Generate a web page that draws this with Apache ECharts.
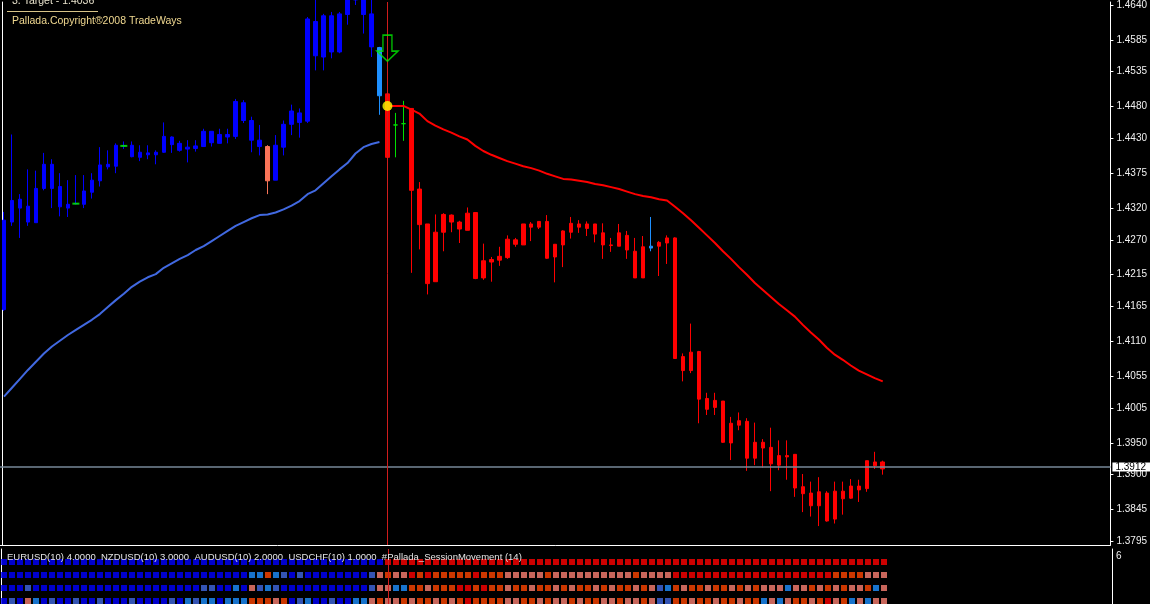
<!DOCTYPE html>
<html><head><meta charset="utf-8">
<script src="https://cdn.jsdelivr.net/npm/echarts@6/dist/echarts.min.js"></script>
<style>html,body{margin:0;padding:0;background:#000;}#chart{width:1150px;height:604px;}</style>
</head><body><div id="chart"></div>
<script>
// ---------- data ----------
const barCount = 139; // slots on the time axis (111 bars + empty space on the right)
const barLabels = Array.from({length: barCount}, (_, i) => String(i + 1));

const openP = [1.4160,1.4298,1.4334,1.4323,1.4297,1.4351,1.4389,1.4354,1.4320,1.4327,
1.4326,1.4345,1.4363,1.4389,1.4386,1.4418,1.4419,1.4400,1.4407,1.4404,
1.4408,1.4432,1.4422,1.4413,1.4414,1.4417,1.4441,1.4422,1.4436,1.4433,
1.4486,1.4458,1.4427,1.4417,1.4364,1.4416,1.4452,1.4470,1.4457,1.4614,
1.4558,1.4623,1.4566,1.4625,1.4648,1.4657,1.4626,1.4573,1.4500,1.4451,
1.4453,1.4477,1.4350,1.4295,1.4204,1.4282,1.4309,1.4298,1.4285,1.4313,
1.4210,1.4239,1.4238,1.4242,1.4270,1.4262,1.4295,1.4290,1.4299,1.4243,
1.4262,1.4282,1.4295,1.4288,1.4295,1.4281,1.4262,1.4260,1.4277,1.4252,
1.4210,1.4260,1.4260,1.4265,1.4273,1.4086,1.4064,1.4094,1.4020,1.4006,
1.4016,1.3950,1.3985,1.3984,1.3926,1.3951,1.3943,1.3915,1.3930,1.3932,
1.3881,1.3871,1.3851,1.3871,1.3830,1.3874,1.3863,1.3882,1.3878,1.3920,
1.3920];
const closeP = [1.4301,1.4332,1.4320,1.4298,1.4351,1.4389,1.4351,1.4322,1.4326,1.4327,
1.4347,1.4364,1.4388,1.4385,1.4419,1.4418,1.4401,1.4408,1.4404,1.4408,
1.4433,1.4420,1.4411,1.4416,1.4418,1.4441,1.4423,1.4436,1.4432,1.4488,
1.4458,1.4427,1.4417,1.4363,1.4419,1.4452,1.4473,1.4455,1.4618,1.4560,
1.4623,1.4566,1.4626,1.4654,1.4660,1.4625,1.4574,1.4497,1.4400,1.4451,
1.4453,1.4348,1.4294,1.4201,1.4282,1.4310,1.4298,1.4287,1.4312,1.4209,
1.4237,1.4235,1.4244,1.4271,1.4263,1.4295,1.4290,1.4299,1.4241,1.4263,
1.4284,1.4296,1.4290,1.4295,1.4279,1.4262,1.4261,1.4281,1.4254,1.4210,
1.4259,1.4257,1.4266,1.4273,1.4083,1.4064,1.4093,1.4019,1.4003,1.4017,
1.3951,1.3981,1.3978,1.3926,1.3951,1.3942,1.3917,1.3930,1.3928,1.3879,
1.3870,1.3851,1.3873,1.3827,1.3874,1.3862,1.3882,1.3876,1.3922,1.3914,
1.3909];
const lowP = [1.4158,1.4292,1.4273,1.4292,1.4297,1.4348,1.4320,1.4307,1.4306,1.4326,
1.4320,1.4335,1.4354,1.4381,1.4375,1.4413,1.4400,1.4394,1.4397,1.4389,
1.4407,1.4407,1.4409,1.4392,1.4409,1.4417,1.4417,1.4422,1.4422,1.4429,
1.4454,1.4408,1.4403,1.4342,1.4364,1.4403,1.4435,1.4431,1.4454,1.4537,
1.4537,1.4556,1.4564,1.4609,1.4640,1.4595,1.4558,1.4467,1.4400,1.4400,
1.4426,1.4218,1.4255,1.4184,1.4204,1.4252,1.4282,1.4265,1.4285,1.4208,
1.4207,1.4204,1.4229,1.4240,1.4259,1.4262,1.4268,1.4287,1.4240,1.4203,
1.4227,1.4272,1.4281,1.4276,1.4266,1.4240,1.4251,1.4260,1.4240,1.4210,
1.4210,1.4252,1.4213,1.4232,1.4083,1.4047,1.4060,1.3981,1.3994,1.3994,
1.3950,1.3923,1.3970,1.3906,1.3915,1.3911,1.3874,1.3907,1.3892,1.3865,
1.3841,1.3834,1.3819,1.3826,1.3823,1.3837,1.3862,1.3857,1.3873,1.3909,
1.3900];
const highP = [1.4314,1.4436,1.4342,1.4381,1.4379,1.4407,1.4397,1.4375,1.4364,1.4372,
1.4372,1.4375,1.4416,1.4411,1.4422,1.4425,1.4425,1.4419,1.4419,1.4411,
1.4455,1.4433,1.4426,1.4427,1.4427,1.4445,1.4441,1.4445,1.4445,1.4492,
1.4490,1.4464,1.4451,1.4419,1.4435,1.4458,1.4483,1.4477,1.4621,1.4649,
1.4626,1.4629,1.4629,1.4660,1.4668,1.4664,1.4654,1.4574,1.4500,1.4470,
1.4489,1.4477,1.4361,1.4295,1.4310,1.4312,1.4310,1.4300,1.4321,1.4313,
1.4264,1.4243,1.4259,1.4277,1.4273,1.4295,1.4298,1.4299,1.4309,1.4263,
1.4285,1.4306,1.4301,1.4299,1.4295,1.4296,1.4273,1.4295,1.4284,1.4273,
1.4276,1.4306,1.4268,1.4277,1.4274,1.4091,1.4138,1.4095,1.4029,1.4029,
1.4016,1.3991,1.3998,1.3989,1.3982,1.3956,1.3974,1.3954,1.3954,1.3932,
1.3901,1.3889,1.3896,1.3874,1.3889,1.3889,1.3893,1.3892,1.3922,1.3936,
1.3922];
// candle colour codes: B blue, S salmon, D light blue, R red, G green
const candleCodes = "BBBBBBBBBB" + "BBBBBBBBBB" + "BBBBBBBBBB" + "BBBSBBBBBB" + "BBBBBBBDRG" +
                    "GRRRRRRRRR" + "RRRRRRRRRR" + "RRRRRRRRRR" + "RDRRRRRRRR" + "RRRRRRRRRR" +
                    "RRRRRRRRRR" + "R";
const dojiBars = [9, 15];
const dojiPrices = [1.4327, 1.4418];

// blue moving average (bars 0..47)
const trendMA = [1.4023,1.4037,1.4051,1.4065,1.4078,1.4091,1.4102,1.4111,1.4120,1.4128,
1.4136,1.4144,1.4153,1.4164,1.4175,1.4185,1.4196,1.4204,1.4211,1.4216,
1.4226,1.4233,1.4240,1.4246,1.4254,1.4260,1.4268,1.4276,1.4284,1.4292,
1.4298,1.4304,1.4309,1.4310,1.4313,1.4318,1.4324,1.4331,1.4342,1.4348,
1.4359,1.4370,1.4381,1.4391,1.4406,1.4416,1.4421,1.4424];
// red trailing line (bars 48..110)
const stopStart = 48;
const stopLine = [1.4481,1.4481,1.4481,1.4475,1.4469,1.4457,1.4450,1.4444,1.4439,1.4433,
1.4428,1.4418,1.4410,1.4404,1.4399,1.4394,1.4390,1.4386,1.4383,1.4379,
1.4374,1.4370,1.4366,1.4365,1.4363,1.4361,1.4358,1.4356,1.4353,1.4350,
1.4346,1.4342,1.4339,1.4337,1.4334,1.4332,1.4322,1.4312,1.4301,1.4289,
1.4277,1.4265,1.4252,1.4240,1.4227,1.4215,1.4202,1.4191,1.4180,1.4169,
1.4159,1.4149,1.4136,1.4124,1.4113,1.4100,1.4089,1.4081,1.4072,1.4064,
1.4058,1.4052,1.4047];

const signalBar = 48;
const entryPrice = 1.4481;
const arrowPrice = 1.4572;
const lastPrice = 1.3912;

const priceTicks = [1.4640,1.4585,1.4535,1.4480,1.4430,1.4375,1.4320,1.4270,1.4215,1.4165,
1.4110,1.4055,1.4005,1.3950,1.3900,1.3845,1.3795];
const priceMin = 1.378917, priceMax = 1.464471;

// session movement sub-window: 4 rows of colour codes (bars 0..110)
const rowLevels = [4, 3, 2, 1];
const sessionRows = [
 "BBBBBBBBBB"+"BBBBBBBBBB"+"BBBBBBBBBB"+"BBBBBBBBBB"+"BBBBBBBBRR"+"RRRRRRRRRR"+"RRRRRRRRRR"+"RRRRRRRRRR"+"RRRRRRRRRR"+"RRRRRRRRRR"+"RRRRRRRRRR"+"R",
 "BBBBBBBBBB"+"BBBBBBBBBB"+"BBBBBBBBBB"+"BDDODLBLBB"+"BBBBBBLSOS"+"SROROOOOOR"+"OOOSSSSSOS"+"SSSSSSSSSO"+"SSSSRRRRRR"+"RRRRRRRRRR"+"RRRROOOOSS"+"S",
 "BBBLBBBBBB"+"BBBBBBBBBB"+"BBBBBLLBBD"+"BSLDLBBBBB"+"BBBBBBLSSD"+"DOOSOOORRO"+"ROOSOOSOOS"+"OSOOSOSOOS"+"OSLDOSOOSO"+"OSOSOSSSDS"+"SOSOSOSSOD"+"S",
 "BLBSDBLBBL"+"BBLBBBLBBB"+"BLBDLDDBDD"+"DOOOSOBLDB"+"BLBBDDSOSS"+"OSOOSOSORO"+"OOOSSOOSOS"+"SOSOOSSOSS"+"OSLLOOSOOS"+"OOSOODSDSO"+"OSORSODSDS"+"S"
];

// ---------- styling ----------
const candleColors = {B:'#0000ff', S:'#fa7458', D:'#1e90ff', R:'#ff0000', G:'#00e000'};
const squareColors = {B:'#0000ff', L:'#4169e1', D:'#1e90ff', S:'#fa8072', O:'#ff4500', R:'#ff0000'};
const FONT = '"Liberation Sans", Arial, sans-serif';

const candleData = openP.map((o, i) => {
  const c = candleColors[candleCodes[i]];
  return {value: [o, closeP[i], lowP[i], highP[i]],
          itemStyle: {color: c, color0: c, borderColor: c, borderColor0: c, borderColorDoji: c}};
});
const maData = barLabels.map((_, i) => i < trendMA.length ? trendMA[i] : null);
const stopData = barLabels.map((_, i) => (i >= stopStart && i - stopStart < stopLine.length) ? stopLine[i - stopStart] : null);

const squareSeries = sessionRows.map((codes, r) => ({
  type: 'scatter', xAxisIndex: 1, yAxisIndex: 2, symbol: 'rect', symbolSize: [6, 6], silent: true, z: 2,
  data: codes.split('').map((c, k) => ({value: [k, rowLevels[r]], itemStyle: {color: squareColors[c]}}))
}));

const chart = echarts.init(document.getElementById('chart'), null, {renderer: 'canvas'});
chart.setOption({
  backgroundColor: '#000',
  animation: false,
  textStyle: {fontFamily: FONT},
  grid: [
    {left: 0, top: 0, width: 1112, height: 545},
    {left: 0, top: 549, width: 1112, height: 55}
  ],
  xAxis: [
    {gridIndex: 0, type: 'category', data: barLabels, boundaryGap: true,
     axisLine: {show: true, lineStyle: {color: '#ffffff', width: 1}}, axisTick: {show: false},
     axisLabel: {show: false}, splitLine: {show: false}},
    {gridIndex: 1, type: 'category', data: barLabels, boundaryGap: true, position: 'top',
     axisLine: {show: true, lineStyle: {color: '#ffffff', width: 1}}, axisTick: {show: false},
     axisLabel: {show: false}, splitLine: {show: false}}
  ],
  yAxis: [
    {gridIndex: 0, type: 'value', position: 'right', min: priceMin, max: priceMax, scale: true,
     axisLine: {show: true, lineStyle: {color: '#ffffff', width: 1}},
     axisTick: {show: true, length: 3, lineStyle: {color: '#ffffff'}, customValues: priceTicks},
     axisLabel: {show: true, color: '#f0f0f0', fontSize: 10, margin: 6, fontFamily: FONT,
                 customValues: priceTicks, formatter: v => v.toFixed(4)},
     splitLine: {show: false}},
    {gridIndex: 0, type: 'value', position: 'left', offset: -2, min: priceMin, max: priceMax,
     axisLine: {show: true, lineStyle: {color: '#ffffff', width: 1}},
     axisTick: {show: false}, axisLabel: {show: false}, splitLine: {show: false}},
    {gridIndex: 1, type: 'value', position: 'right', min: 0.77, max: 5,
     axisLine: {show: true, lineStyle: {color: '#ffffff', width: 1}},
     axisTick: {show: false}, axisLabel: {show: false}, splitLine: {show: false}},
    {gridIndex: 1, type: 'value', position: 'right', min: 0, max: 6,
     axisLine: {show: false}, axisTick: {show: false}, splitLine: {show: false},
     axisLabel: {show: true, color: '#f0f0f0', fontSize: 10, margin: 4, fontFamily: FONT,
                 customValues: [6], verticalAlign: 'top', padding: [2, 0, 0, 0]}},
    {gridIndex: 1, type: 'value', position: 'left', offset: -1, min: 0.77, max: 5,
     axisLine: {show: true, lineStyle: {color: '#ffffff', width: 1}},
     axisTick: {show: false}, axisLabel: {show: false}, splitLine: {show: false}}
  ],
  graphic: [
    {type: 'text', x: 12, y: 1.5, z: 100, silent: true,
     style: {text: '3. Target - 1.4036', fill: '#e8e2cc', font: '10.5px ' + FONT, verticalAlign: 'middle'}},
    {type: 'line', z: 100, silent: true, shape: {x1: 7, y1: 11.5, x2: 98, y2: 11.5},
     style: {stroke: '#d8c488', lineWidth: 1}},
    {type: 'text', x: 12, y: 21.5, z: 100, silent: true,
     style: {text: 'Pallada.Copyright®2008 TradeWays', fill: '#f0d890', font: '10.5px ' + FONT, verticalAlign: 'middle'}},
    {type: 'text', x: 7, y: 557.5, z: 100, silent: true,
     style: {text: 'EURUSD(10) 4.0000  NZDUSD(10) 3.0000  AUDUSD(10) 2.0000  USDCHF(10) 1.0000  #Pallada_SessionMovement (14)',
             fill: '#e4e4e4', font: '9.5px ' + FONT, verticalAlign: 'middle'}}
  ],
  series: [
    {name: 'refLines', type: 'line', xAxisIndex: 0, yAxisIndex: 0, data: [], z: 1,
     markLine: {silent: true, symbol: ['none', 'none'], animation: false, precision: 4,
       data: [
         {yAxis: lastPrice, lineStyle: {color: '#778899', width: 1.5, type: 'solid'},
          label: {show: true, position: 'end', distance: 2, formatter: lastPrice.toFixed(4),
                  color: '#000', backgroundColor: '#ffffff', fontSize: 10, fontFamily: FONT,
                  padding: [0, 4, 0, 3], lineHeight: 9}},
         {xAxis: barLabels[signalBar], lineStyle: {color: '#d01c1c', width: 1, type: 'solid'}, label: {show: false}}
       ]}},
    {name: 'EURUSD', type: 'candlestick', xAxisIndex: 0, yAxisIndex: 0, data: candleData,
     barWidth: 4, clip: true, z: 3, itemStyle: {borderWidth: 1}},
    {name: 'doji', type: 'scatter', xAxisIndex: 0, yAxisIndex: 0, symbol: 'rect', symbolSize: [7, 2], z: 4,
     data: dojiBars.map((b, i) => [b, dojiPrices[i]]), itemStyle: {color: '#00ff00'}, silent: true},
    {name: 'trendMA', type: 'line', xAxisIndex: 0, yAxisIndex: 0, data: maData, symbol: 'none',
     lineStyle: {color: '#4169e1', width: 2}, z: 4, silent: true},
    {name: 'stop', type: 'line', xAxisIndex: 0, yAxisIndex: 0, data: stopData, symbol: 'none',
     lineStyle: {color: '#ff0000', width: 2}, z: 4, silent: true},
    {name: 'entry', type: 'scatter', xAxisIndex: 0, yAxisIndex: 0, symbol: 'circle', symbolSize: 10, z: 6,
     data: [[signalBar, entryPrice]], itemStyle: {color: '#ffff00'}, silent: true},
    {name: 'sellArrow', type: 'scatter', xAxisIndex: 0, yAxisIndex: 0, z: 6, silent: true,
     symbol: 'path://M6,0L15,0L15,16L21,16L10.5,26L0,16L6,16Z', symbolSize: [21, 26],
     data: [[signalBar, arrowPrice]],
     itemStyle: {color: 'rgba(0,0,0,0)', borderColor: '#00ee00', borderWidth: 1.5}},
    ...squareSeries,
    {name: 'subLine', type: 'line', xAxisIndex: 1, yAxisIndex: 2, data: [], z: 3,
     markLine: {silent: true, symbol: ['none', 'none'], animation: false,
       data: [{xAxis: barLabels[signalBar], lineStyle: {color: '#d01c1c', width: 1, type: 'solid'}, label: {show: false}}]}}
  ]
});
</script>
</body></html>
